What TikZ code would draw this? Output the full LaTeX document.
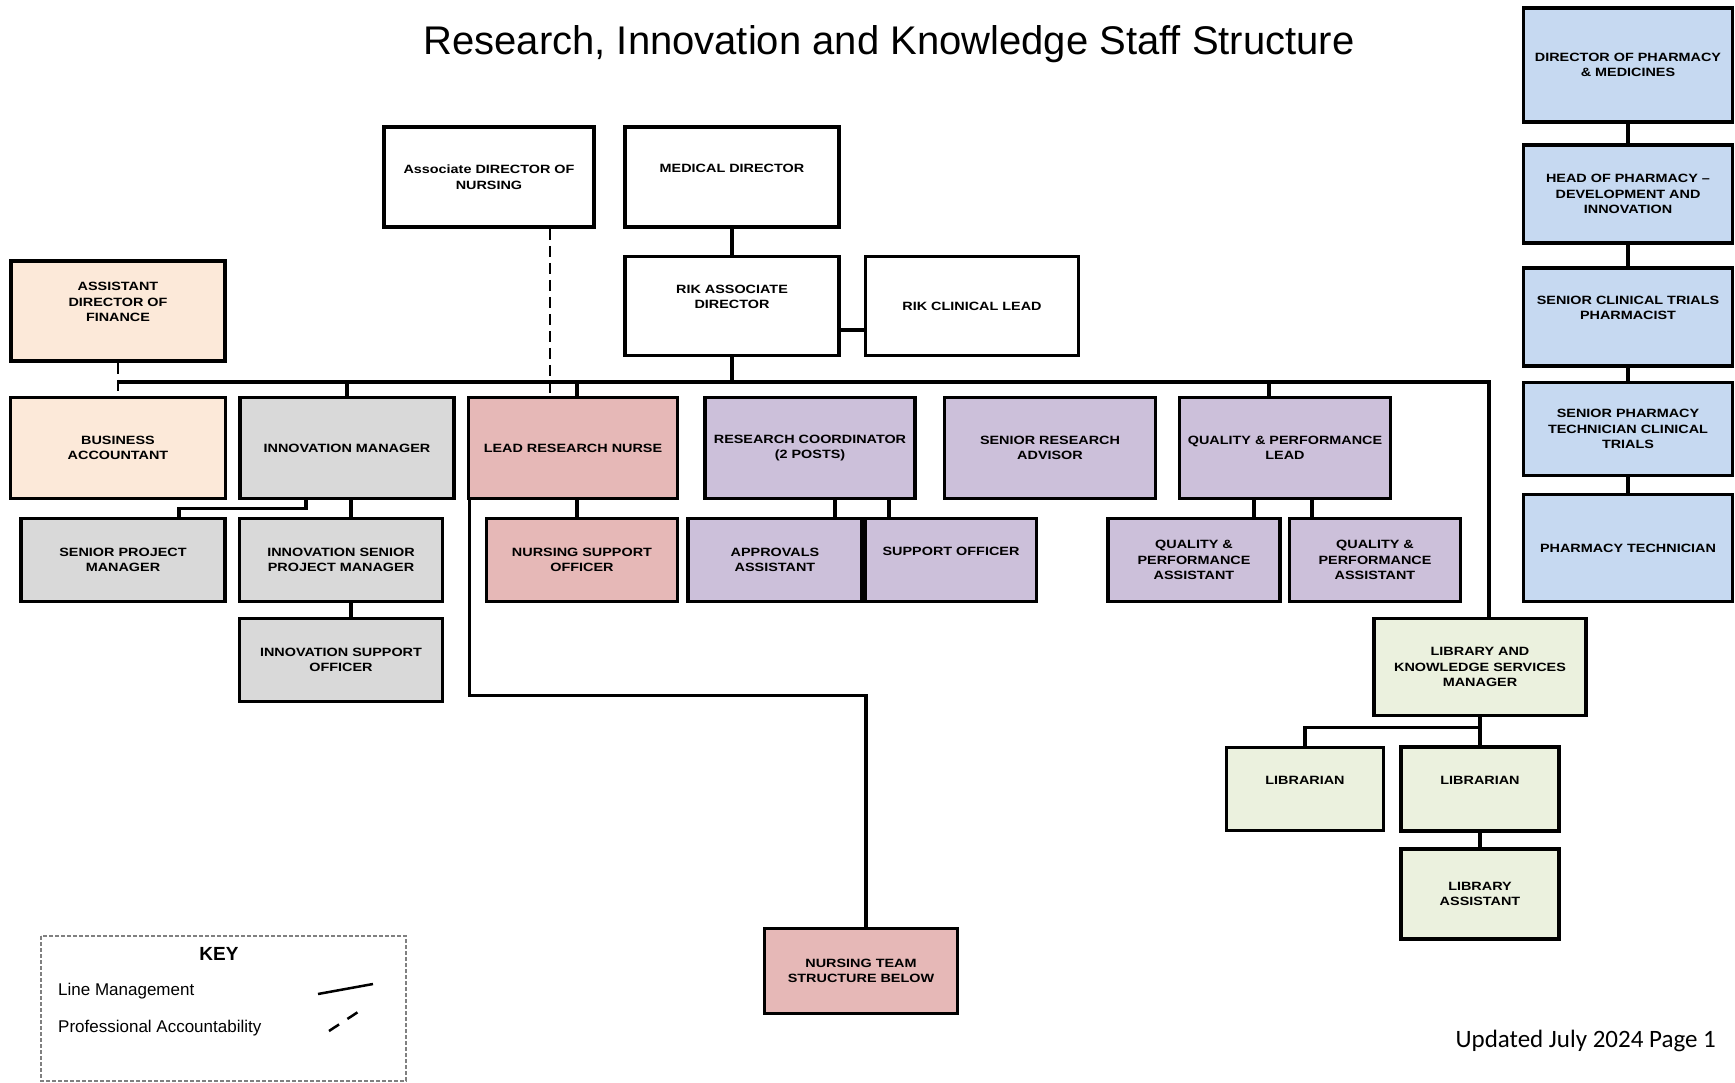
\documentclass[tikz,border=0pt]{standalone}
\usepackage{fontspec}
\setmainfont{Liberation Sans}
\newfontfamily\boxfont{Liberation Sans}[FakeStretch=1.2]
\newfontfamily\notefont{Carlito}
\definecolor{finance}{RGB}{252,233,217}
\definecolor{innov}{RGB}{217,217,217}
\definecolor{nurse}{RGB}{230,184,183}
\definecolor{research}{RGB}{204,192,218}
\definecolor{library}{RGB}{235,241,222}
\definecolor{pharmacy}{RGB}{198,217,241}

\begin{document}
\begin{tikzpicture}[x=1pt, y=-1pt,
    box/.style={draw, line width=3.6pt, align=center, inner sep=2pt, font=\boxfont\bfseries\fontsize{12pt}{15.5pt}\selectfont},
    dims/.style 2 args={minimum width=#1pt, minimum height=#2pt},
    high/.style={text depth=18pt},
    link/.style={line width=3.2pt},
    prof/.style={line width=2.6pt, dash pattern=on 11pt off 6pt}]
    \useasboundingbox (0,0) rectangle (1735,1083);

    \node (title) at (889,44) {\fontsize{40pt}{44pt}\selectfont Research, Innovation and Knowledge Staff Structure};

    \node[box, dims={210}{100}] (adon) at (489,177) {Associate DIRECTOR OF\\NURSING};
    \node[box, high, dims={214}{100}] (meddir) at (732,177) {MEDICAL DIRECTOR};
    \node[box, high, dims={214}{99}] (rikad) at (732,306) {RIK ASSOCIATE\\DIRECTOR};
    \node[box, dims={213}{99}] (rikcl) at (972,306) {RIK CLINICAL LEAD};
    \node[box, high, fill=finance, dims={214}{100}] (adf) at (118,311) {ASSISTANT\\DIRECTOR OF\\FINANCE};

    \node[box, fill=finance, dims={215}{101}] (ba) at (118,448) {BUSINESS\\ACCOUNTANT};
    \node[box, fill=innov, dims={214}{101}] (innmgr) at (347,448) {INNOVATION MANAGER};
    \node[box, fill=nurse, dims={209}{101}] (lrn) at (573,448) {LEAD RESEARCH NURSE};
    \node[box, fill=research, dims={210}{101}] (rescoord) at (810,448) {RESEARCH COORDINATOR\\(2 POSTS)};
    \node[box, fill=research, dims={211}{101}] (sra) at (1050,448) {SENIOR RESEARCH\\ADVISOR};
    \node[box, fill=research, dims={211}{101}] (qpl) at (1285,448) {QUALITY \& PERFORMANCE\\LEAD};

    \node[box, fill=innov, dims={204}{83}] (spm) at (123,560) {SENIOR PROJECT\\MANAGER};
    \node[box, fill=innov, dims={203}{83}] (ispm) at (341,560) {INNOVATION SENIOR\\PROJECT MANAGER};
    \node[box, fill=nurse, dims={191}{83}] (nso) at (582,560) {NURSING SUPPORT\\OFFICER};
    \node[box, fill=research, dims={174}{83}] (appr) at (775,560) {APPROVALS\\ASSISTANT};
    \node[box, high, fill=research, dims={171}{83}] (supp) at (951,560) {SUPPORT OFFICER};
    \node[box, fill=research, dims={172}{83}] (qpa1) at (1194,560) {QUALITY \&\\PERFORMANCE\\ASSISTANT};
    \node[box, fill=research, dims={171}{83}] (qpa2) at (1375,560) {QUALITY \&\\PERFORMANCE\\ASSISTANT};

    \node[box, fill=innov, dims={203}{83}] (iso) at (341,660) {INNOVATION SUPPORT\\OFFICER};
    \node[box, fill=library, dims={212}{97}] (lksm) at (1480,667) {LIBRARY AND\\KNOWLEDGE SERVICES\\MANAGER};
    \node[box, high, fill=library, dims={157}{83}] (lib1) at (1305,789) {LIBRARIAN};
    \node[box, high, fill=library, dims={158}{84}] (lib2) at (1480,789) {LIBRARIAN};
    \node[box, fill=library, dims={158}{90}] (libasst) at (1480,894) {LIBRARY\\ASSISTANT};
    \node[box, fill=nurse, dims={193}{85}] (nts) at (861,971) {NURSING TEAM\\STRUCTURE BELOW};

    \node[box, fill=pharmacy, dims={209}{114}] (dopm) at (1628,65) {DIRECTOR OF PHARMACY\\\& MEDICINES};
    \node[box, fill=pharmacy, dims={209}{98}] (hop) at (1628,194) {HEAD OF PHARMACY \textendash\\DEVELOPMENT AND\\INNOVATION};
    \node[box, high, fill=pharmacy, dims={209}{98}] (sctp) at (1628,317) {SENIOR CLINICAL TRIALS\\PHARMACIST};
    \node[box, fill=pharmacy, dims={209}{93}] (sptct) at (1628,429) {SENIOR PHARMACY\\TECHNICIAN CLINICAL\\TRIALS};
    \node[box, fill=pharmacy, dims={209}{107}] (pht) at (1628,548) {PHARMACY TECHNICIAN};

    \coordinate (busL) at (118,382);
    \coordinate (busR) at (1489,382);
    \draw[link] (meddir) -- (rikad);
    \draw[link] (rikad.east |- 0,330) -- (rikcl.west |- 0,330);
    \draw[link] (rikad.south) -- (rikad.south |- busL);
    \draw[link] (busL) -- (busR) -- (busR |- lksm.north);
    \draw[prof] (adf.south) -- (ba.north);
    \draw[prof] ([xshift=61pt]adon.south) -- ([xshift=61pt]adon.south |- lrn.north);
    \draw[link] (innmgr.north) -- (innmgr.north |- busL);
    \draw[link] ([xshift=4pt]lrn.north) -- ([xshift=4pt]lrn.north |- busL);
    \draw[link] ([xshift=-16pt]qpl.north) -- ([xshift=-16pt]qpl.north |- busL);

    \draw[link] ([xshift=-41pt]innmgr.south) -- ++(0,8) -| ([xshift=56pt]spm.north);
    \draw[link] ([xshift=10pt]ispm.north |- innmgr.south) -- ([xshift=10pt]ispm.north);
    \draw[link] ([xshift=10pt]ispm.south) -- ([xshift=10pt]iso.north);
    \draw[link] ([xshift=4pt]lrn.south) -- ([xshift=4pt]lrn.south |- nso.north);
    \draw[link] ([xshift=3pt]lrn.south west) -- ++(0,195) -| ([xshift=5pt]nts.north);
    \draw[link] ([xshift=25pt]rescoord.south) -- ([xshift=25pt]rescoord.south |- appr.north);
    \draw[link] ([xshift=79pt]rescoord.south) -- ([xshift=79pt]rescoord.south |- supp.north);
    \draw[link] ([xshift=-31pt]qpl.south) -- ([xshift=-31pt]qpl.south |- qpa1.north);
    \draw[link] ([xshift=27pt]qpl.south) -- ([xshift=27pt]qpl.south |- qpa2.north);

    \draw[link] (lksm.south) -- ++(0,10) -| (lib1.north);
    \draw[link] (lksm.south) -- (lksm.south |- lib2.north);
    \draw[link] (lib2) -- (libasst);

    \draw[link] (dopm) -- (hop);
    \draw[link] (hop) -- (sctp);
    \draw[link] (sctp) -- (sptct);
    \draw[link] (sptct) -- (pht);

    \draw[gray, line width=1.5pt, dash pattern=on 4pt off 2pt] (41,936) rectangle (406,1081);
    \node[font=\bfseries\fontsize{19pt}{22pt}\selectfont] (key) at (219,954) {KEY};
    \node[anchor=west, inner sep=0pt, font=\fontsize{17pt}{20pt}\selectfont] (keylm) at (58,991) {Line Management};
    \node[anchor=west, inner sep=0pt, font=\fontsize{17pt}{20pt}\selectfont] (keypa) at (58,1028) {Professional Accountability};
    \coordinate (lmA) at (318,994);
    \coordinate (lmB) at (373,984);
    \coordinate (paA) at (329,1031);
    \coordinate (paB) at (358,1012);
    \draw[line width=2.5pt] (lmA) -- (lmB);
    \draw[line width=2.5pt, dash pattern=on 12pt off 10pt] (paA) -- (paB);

    \node[anchor=east, inner sep=0pt, font=\notefont\fontsize{25pt}{28pt}\selectfont] (upd) at (1716,1041) {Updated July 2024 Page 1};
\end{tikzpicture}
\end{document}
